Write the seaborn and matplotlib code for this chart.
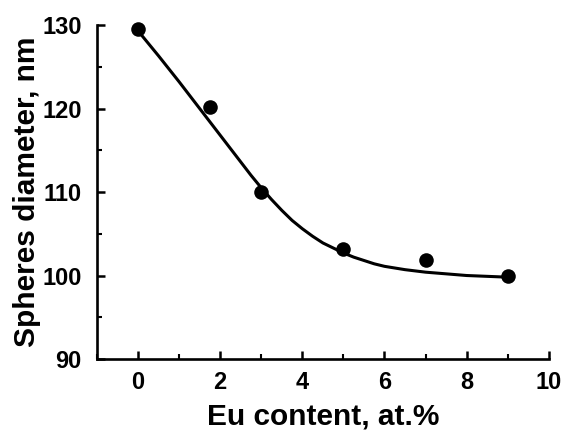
import numpy as np
import pandas as pd
import matplotlib
matplotlib.use('Agg')
import matplotlib.pyplot as plt
from matplotlib.ticker import MultipleLocator
import seaborn as sns

# measured points
eu_content = [0, 1.75, 3, 5, 7, 9]
diameter = [129.5, 120.2, 110.0, 103.2, 101.9, 99.9]

# fitted curve
fit_x = [0, 0.5, 1, 1.5, 2, 2.25, 2.5, 2.75, 3, 3.25, 3.5, 3.75, 4, 4.25, 4.5, 4.75,
         5, 5.25, 5.5, 5.75, 6, 6.5, 7, 7.5, 8, 8.5, 9]
fit_y = [129.3, 126.3, 123.2, 120.0, 116.8, 115.2, 113.6, 112.0, 110.5, 109.1, 107.8,
         106.6, 105.6, 104.7, 103.9, 103.3, 102.7, 102.2, 101.8, 101.4, 101.1,
         100.7, 100.4, 100.2, 100.0, 99.9, 99.8]

sns.set_style('ticks', {'axes.edgecolor': 'black', 'text.color': 'black',
                        'axes.labelcolor': 'black', 'xtick.color': 'black',
                        'ytick.color': 'black'})
plt.rcParams['font.family'] = ['Liberation Sans', 'DejaVu Sans']
plt.rcParams['font.weight'] = 'bold'

pts = pd.DataFrame({'x': eu_content, 'y': diameter})
fit = pd.DataFrame({'x': fit_x, 'y': fit_y})

fig = plt.figure(figsize=(5.64, 4.32), dpi=100)
ax = fig.add_axes([0.172, 0.169, 0.801, 0.773])

sns.lineplot(data=fit, x='x', y='y', ax=ax, color='black', linewidth=2.2, sort=False)
sns.scatterplot(data=pts, x='x', y='y', ax=ax, color='black', s=110,
                edgecolor='black', linewidth=0, zorder=3, clip_on=False)

ax.set_xlim(-1, 10)
ax.set_ylim(90, 130)
ax.xaxis.set_major_locator(MultipleLocator(2))
ax.xaxis.set_minor_locator(MultipleLocator(1))
ax.yaxis.set_major_locator(MultipleLocator(10))
ax.yaxis.set_minor_locator(MultipleLocator(5))
ax.tick_params(which='major', direction='in', length=6, width=1.8, labelsize=17, pad=9,
               colors='black')
ax.tick_params(which='minor', direction='in', length=3.5, width=1.5, colors='black')
ax.tick_params(axis='y', which='major', pad=11)
for lab in ax.get_xticklabels() + ax.get_yticklabels():
    lab.set_fontweight('bold')

for side in ['top', 'right']:
    ax.spines[side].set_visible(False)
for side in ['left', 'bottom']:
    ax.spines[side].set_linewidth(1.9)
    ax.spines[side].set_color('black')

ax.set_xlabel('Eu content, at.%', fontsize=21.5, fontweight='bold', labelpad=6, color='black')
ax.set_ylabel('Spheres diameter, nm', fontsize=21.5, fontweight='bold', labelpad=1,
              color='black')

fig.savefig('out.png', dpi=100, facecolor='white')
